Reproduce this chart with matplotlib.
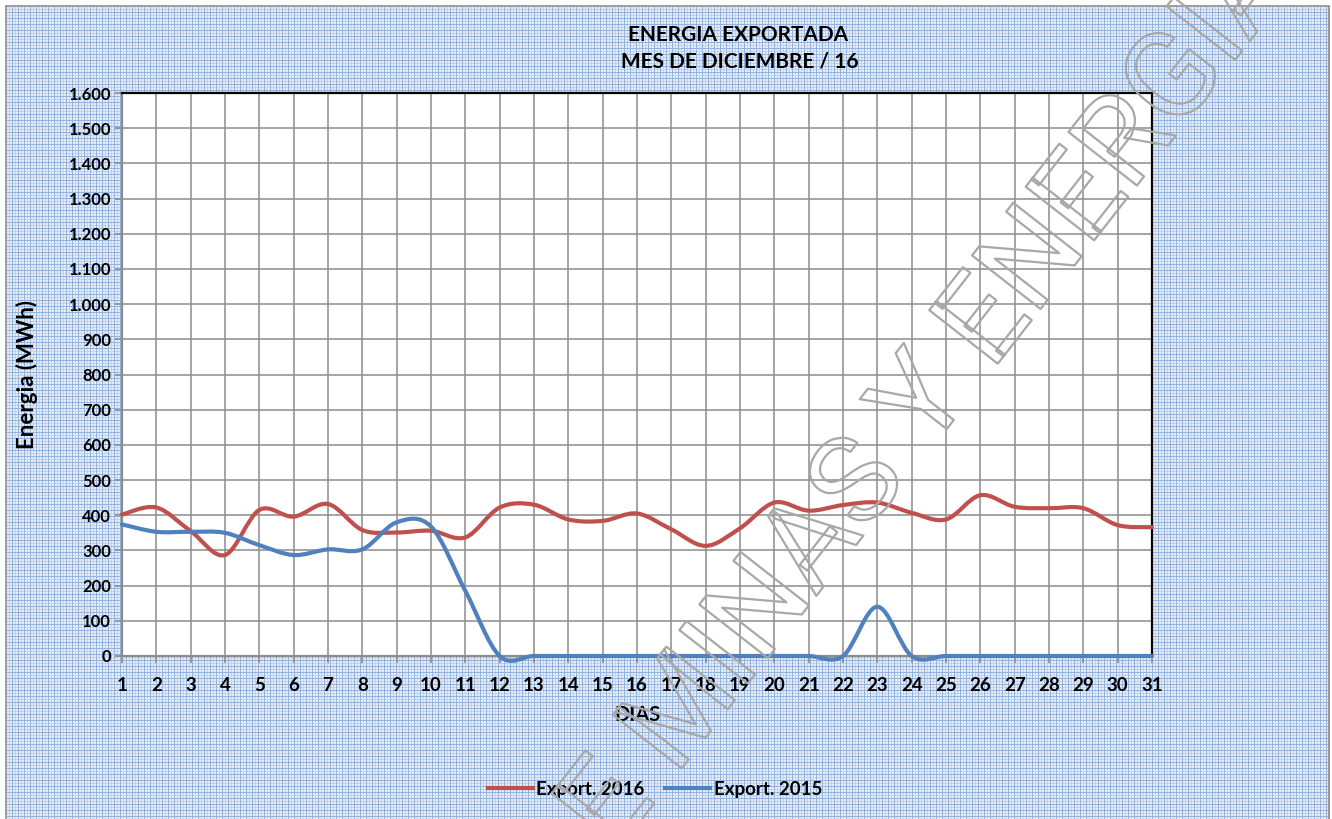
import numpy as np
import matplotlib
matplotlib.use("Agg")
import matplotlib.pyplot as plt
from matplotlib.path import Path
from matplotlib.patches import PathPatch, Rectangle
from matplotlib.lines import Line2D
import matplotlib.patheffects as pe
from matplotlib.ticker import FuncFormatter

# ---------------- data ----------------
days = list(range(1, 32))
export_2016 = [402, 422, 355, 287, 415, 396, 432, 358, 351, 356, 337, 422, 430,
               388, 384, 405, 360, 313, 363, 436, 413, 429, 436, 407, 388, 457,
               424, 420, 420, 372, 366]
export_2015 = [374, 353, 353, 350, 315, 287, 303, 303, 380, 368, 185, 0, 0,
               0, 0, 0, 0, 0, 0, 0, 0, 0, 140, 0, 0, 0,
               0, 0, 0, 0, 0]
series_labels = ["Export. 2016", "Export. 2015"]
title_lines = ["ENERGIA EXPORTADA", "MES DE DICIEMBRE / 16"]
y_ticks = list(range(0, 1700, 100))

RED = "#c0504d"
BLUE = "#4f81bd"
FONT = ["Lato", "DejaVu Sans"]
plt.rcParams["font.family"] = FONT

W, H = 1332, 819
fig = plt.figure(figsize=(W / 100, H / 100), dpi=100)
fig.patch.set_facecolor("white")

# ---------------- background plaid pattern ----------------
yy, xx = np.mgrid[0:H, 0:W]
base = np.array([0.90, 0.93, 0.98])
light = np.array([0.76, 0.83, 0.94])
dark = np.array([0.58, 0.70, 0.88])
img = np.ones((H, W, 3)) * base
m1 = (xx % 3 == 0) | (yy % 3 == 0)
m2 = (xx % 6 == 0) | (yy % 6 == 0)
img[m1] = light
img[m2] = dark
img[(xx < 7) | (yy < 7) | (xx > W - 3)] = 1.0
fig.figimage(img, xo=0, yo=0, zorder=-10)
fig.patches.append(Rectangle((6 / W, -0.01), (W - 9) / W, (H - 6) / H + 0.01,
                             transform=fig.transFigure, fill=False,
                             edgecolor="#8c8c8c", lw=1.2, zorder=-5))

# ---------------- axes ----------------
left, right, top, bottom = 122, 1152, 93, 656
ax = fig.add_axes([left / W, 1 - bottom / H, (right - left) / W, (bottom - top) / H])
ax.set_facecolor("white")
ax.set_xlim(1, 31)
ax.set_ylim(0, 1600)
ax.set_xticks(days)
ax.set_yticks(y_ticks)
ax.yaxis.set_major_formatter(FuncFormatter(lambda v, p: f"{int(v):,}".replace(",", ".")))
ax.grid(True, color="#8c8c8c", lw=1.1)
ax.set_axisbelow(True)
for s in ["top", "right"]:
    ax.spines[s].set_color("black")
    ax.spines[s].set_linewidth(1.6)
for s in ["left", "bottom"]:
    ax.spines[s].set_color("#8c8c8c")
    ax.spines[s].set_linewidth(1.6)
ax.tick_params(axis="both", direction="out", length=5, width=1.2, color="#8c8c8c")
ax.tick_params(axis="x", labelsize=13.5, pad=10)
ax.tick_params(axis="y", labelsize=12, pad=3)
for lab in ax.get_xticklabels() + ax.get_yticklabels():
    lab.set_fontweight("bold")

ax.set_ylabel("Energia (MWh)", fontsize=16, fontweight="bold", labelpad=22)
ax.set_xlabel("DIAS", fontsize=14.5, fontweight="bold", labelpad=8)


def excel_smooth(x, y):
    pts = np.column_stack([x, y]).astype(float)
    n = len(pts)
    verts = [pts[0]]
    codes = [Path.MOVETO]
    for i in range(n - 1):
        p0 = pts[i - 1] if i > 0 else pts[i]
        p1 = pts[i]
        p2 = pts[i + 1]
        p3 = pts[i + 2] if i + 2 < n else pts[i + 1]
        verts += [p1 + (p2 - p0) / 6, p2 - (p3 - p1) / 6, p2]
        codes += [Path.CURVE4] * 3
    return Path(verts, codes)


for vals, col in [(export_2016, RED), (export_2015, BLUE)]:
    ax.add_patch(PathPatch(excel_smooth(days, vals), facecolor="none", edgecolor=col,
                           lw=3.0, capstyle="round", joinstyle="round",
                           clip_on=False, zorder=3))

# ---------------- titles ----------------
fig.text(738 / W, 1 - 35 / H, title_lines[0], ha="center", va="center",
         fontsize=15, fontweight="bold")
fig.text(740 / W, 1 - 62 / H, title_lines[1], ha="center", va="center",
         fontsize=15, fontweight="bold")

# ---------------- legend ----------------
handles = [Line2D([], [], color=RED, lw=3), Line2D([], [], color=BLUE, lw=3)]
fig.legend(handles, series_labels, loc="center", bbox_to_anchor=(655 / W, 1 - 789 / H),
           ncol=2, frameon=False, handlelength=2.4, handletextpad=0.2,
           columnspacing=1.1, prop={"weight": "bold", "size": 13.5, "family": FONT})

# ---------------- watermark ----------------
fig.text(905 / W, 1 - 428 / H, "DE MINAS Y ENERGIA", rotation=52, rotation_mode="anchor",
         ha="center", va="center", fontsize=88, family=["Roboto", "Liberation Sans"],
         color=(1, 1, 1, 0), zorder=10,
         path_effects=[pe.Stroke(linewidth=1.6, foreground="#a8a8a8")])

fig.savefig("out.png", dpi=100)
